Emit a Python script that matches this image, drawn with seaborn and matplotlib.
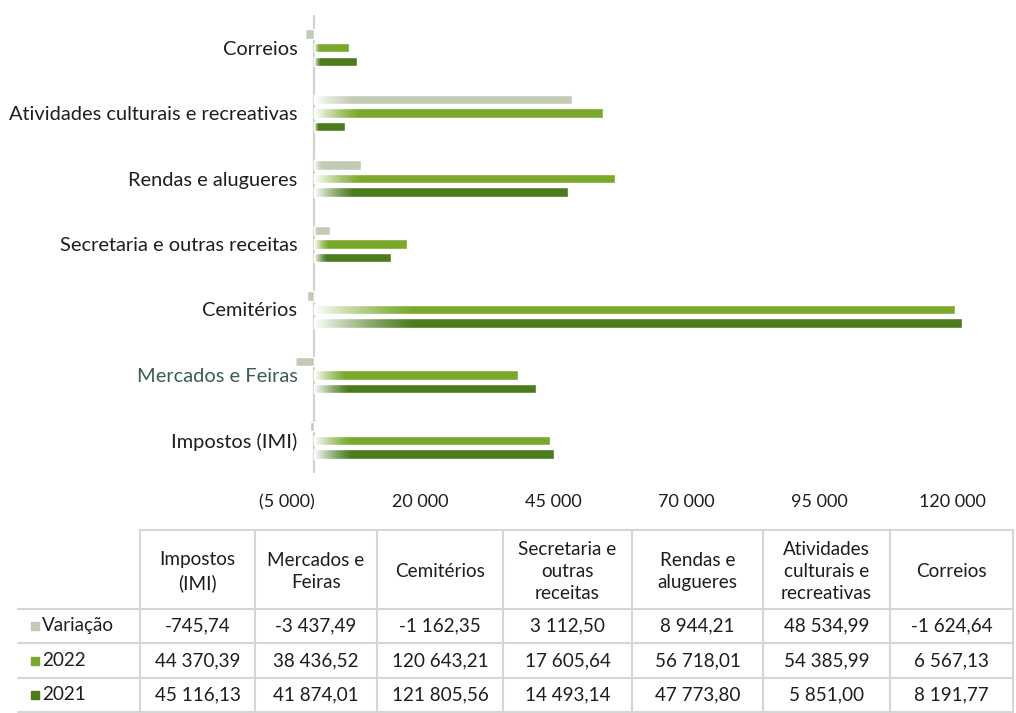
import textwrap
import numpy as np
import pandas as pd
import matplotlib
matplotlib.use("Agg")
import matplotlib.pyplot as plt
import seaborn as sns

# ---------------- data ----------------
categories = ["Impostos (IMI)", "Mercados e Feiras", "Cemitérios",
              "Secretaria e outras receitas", "Rendas e alugueres",
              "Atividades culturais e recreativas", "Correios"]
series_names = ["Variação", "2022", "2021"]
variacao = [-745.74, -3437.49, -1162.35, 3112.50, 8944.21, 48534.99, -1624.64]
v2022 = [44370.39, 38436.52, 120643.21, 17605.64, 56718.01, 54385.99, 6567.13]
v2021 = [45116.13, 41874.01, 121805.56, 14493.14, 47773.80, 5851.00, 8191.77]
x_ticks = [-5000, 20000, 45000, 70000, 95000, 120000]

series_values = {"Variação": variacao, "2022": v2022, "2021": v2021}
colors = {"Variação": "#c3cbb4", "2022": "#79a82b", "2021": "#4b7b1d"}
TEXT = "#1e1e1e"


def fmt_num(v):
    s = f"{abs(v):,.2f}".replace(",", " ").replace(".", ",")
    return ("-" + s) if v < 0 else s


def fmt_tick(v):
    s = f"{abs(v):,.0f}".replace(",", " ")
    return f"({s})" if v < 0 else s


rows = []
for name in series_names:
    for cat, val in zip(categories, series_values[name]):
        rows.append({"categoria": cat, "serie": name, "valor": val})
df = pd.DataFrame(rows)

# ---------------- style ----------------
sns.set_theme(style="white")
plt.rcParams["font.family"] = ["Lato", "DejaVu Sans"]

W, H = 1016, 713
fig = plt.figure(figsize=(W / 100, H / 100), dpi=100)

# main bar axes (pixel layout)
ax_l, ax_r, ax_t, ax_b = 287, 1010, 15, 473
ax = fig.add_axes([ax_l / W, 1 - ax_b / H, (ax_r - ax_l) / W, (ax_b - ax_t) / H])

sns.barplot(data=df, y="categoria", x="valor", hue="serie",
            order=categories[::-1], hue_order=series_names,
            palette=colors, width=0.62, gap=0.3, orient="h",
            saturation=1, errorbar=None, legend=False, ax=ax)

# left-side fade of every bar (white -> colour)
grad = np.zeros((1, 256, 4))
grad[..., :3] = 1.0
grad[0, :, 3] = np.linspace(1.0, 0.0, 256) ** 1.3
for p in list(ax.patches):
    x0, w = p.get_x(), p.get_width()
    y0, h = p.get_y(), p.get_height()
    left = min(x0, x0 + w)
    L = abs(w)
    if L <= 0:
        continue
    fade = 0.16 * L
    im = ax.imshow(grad, extent=[left, left + fade, y0 + h, y0],
                   aspect="auto", interpolation="bilinear",
                   zorder=p.get_zorder() + 0.1)
    im.set_clip_path(p)

ax.set_xlim(-5000, 130900)
ax.set_ylim(6.5, -0.5)
ax.axvline(0, color="#d2d2d2", lw=1.6, zorder=0.5)
for s in ax.spines.values():
    s.set_visible(False)
ax.set_xlabel("")
ax.set_ylabel("")
ax.set_xticks(x_ticks)
ax.set_xticklabels([fmt_tick(t) for t in x_ticks])
ax.tick_params(axis="x", length=0, pad=15, labelsize=13, labelcolor=TEXT)
ax.tick_params(axis="y", length=0, pad=-7.5, labelsize=14.4, labelcolor=TEXT)
for lab in ax.get_yticklabels():
    if lab.get_text() == "Mercados e Feiras":
        lab.set_color("#3b5b57")
ax.grid(False)

# ---------------- data table (pixel coordinates overlay) ----------------
ov = fig.add_axes([0, 0, 1, 1])
ov.set_xlim(0, W)
ov.set_ylim(H, 0)
ov.axis("off")
ov.patch.set_alpha(0)

col_edges = [140, 255, 377, 503, 632, 763, 890, 1013]
hdr_top, hdr_bot = 530, 609
row_edges = [609, 643, 678, 712]
line_c = "#d6d6d6"
TFS = 13.6

ov.plot([col_edges[0], col_edges[-1]], [hdr_top, hdr_top], color=line_c, lw=1.5)
for y in row_edges:
    ov.plot([18, col_edges[-1]], [y, y], color=line_c, lw=1.5)
for x in col_edges:
    ov.plot([x, x], [hdr_top, row_edges[-1]], color=line_c, lw=1.5)

for i, cat in enumerate(categories):
    cx = (col_edges[i] + col_edges[i + 1]) / 2
    ov.text(cx, (hdr_top + hdr_bot) / 2 + 2, textwrap.fill(cat, 12),
            ha="center", va="center", fontsize=TFS, color=TEXT,
            linespacing=1.38)

for r, name in enumerate(series_names):
    cy = (row_edges[r] + row_edges[r + 1]) / 2
    ov.scatter([35], [cy], marker="s", s=26, color=colors[name], zorder=3)
    ov.text(42, cy, name, ha="left", va="center", fontsize=TFS, color=TEXT)
    for i, val in enumerate(series_values[name]):
        cx = (col_edges[i] + col_edges[i + 1]) / 2
        ov.text(cx, cy, fmt_num(val), ha="center", va="center",
                fontsize=TFS, color=TEXT)

fig.savefig("out.png", dpi=100, facecolor="white")
